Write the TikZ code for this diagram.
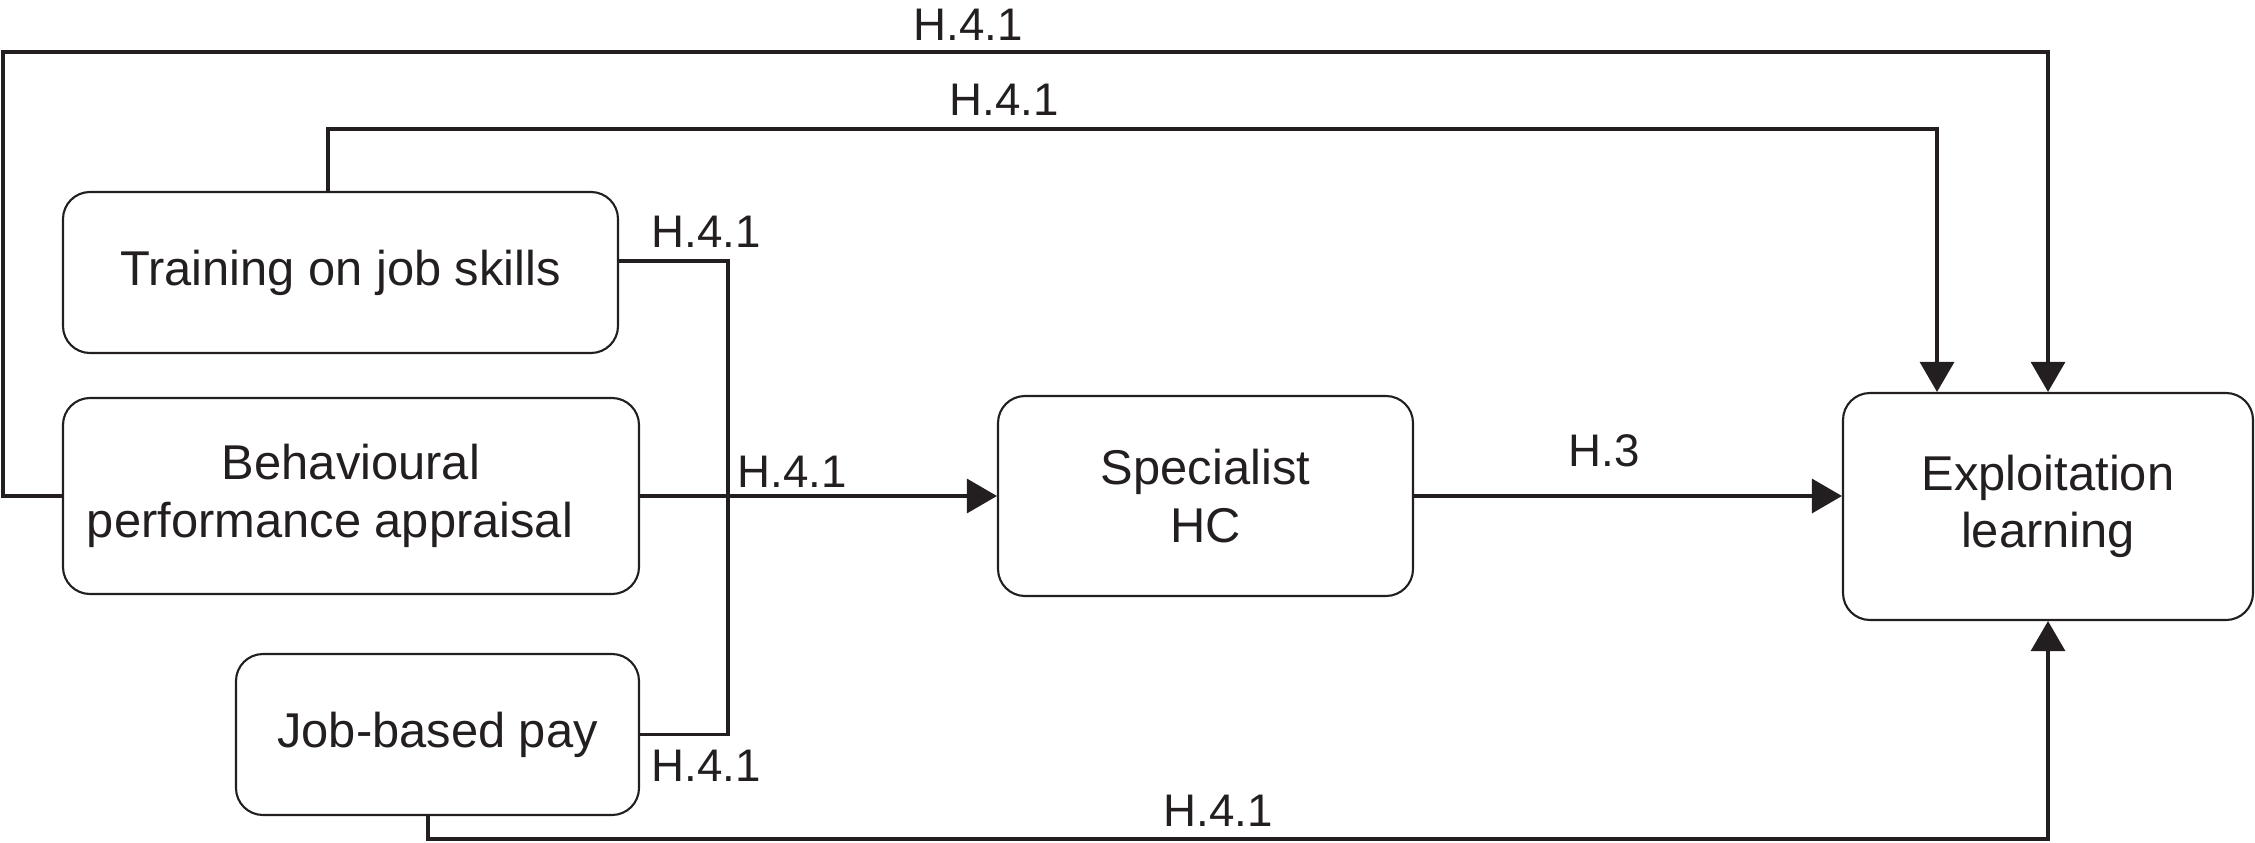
\documentclass[tikz,border=0pt]{standalone}
\usepackage{fontspec}
\setmainfont{Liberation Sans}
\usetikzlibrary{positioning,calc,arrows.meta}
\definecolor{ink}{HTML}{231F20}
\begin{document}
\begin{tikzpicture}[
    box/.style={draw = ink, line width = 0.6pt,
        rounded corners = 0.27cm,
        text = ink,
        text centered, align = center,
        inner sep = 0pt,
        font = \fontsize{13.9}{16.3}\selectfont},
    hyp/.style={text = ink, inner sep = 0pt,
        font = \fontsize{13}{15}\selectfont},
    link/.style={draw = ink, line width = 0.9pt},
    >={Triangle[length=0.3cm, width=0.34cm]}
    ]

        \useasboundingbox (0,0) rectangle (22.55,8.42);

        %training
        \node[box,
            minimum width = 5.55cm,
            minimum height = 1.61cm] (train) at (3.405,5.695) {Training on job skills};

        %appraisal
        \node[box,
            minimum width = 5.76cm,
            minimum height = 1.96cm] (behav) at (3.51,3.46) {Behavioural\\performance appraisal\hspace*{0.42cm}};

        %pay
        \node[box,
            minimum width = 4.03cm,
            minimum height = 1.61cm] (pay) at (4.375,1.075) {Job-based pay};

        %specialist human capital
        \node[box,
            minimum width = 4.15cm,
            minimum height = 2.0cm] (spec) at (12.055,3.46) {Specialist\\HC};

        %exploitation
        \node[box,
            minimum width = 4.10cm,
            minimum height = 2.27cm] (exploit) at (20.48,3.355) {Exploitation\\learning};

        %corners of the long links
        \coordinate (topleft) at (0.03,7.90);
        \coordinate (trainup) at (3.28,7.13);
        \coordinate (trainin) at (19.37,7.13);
        \coordinate (bus) at (7.28,5.81);
        \coordinate (paydown) at (4.28,0.03);

        %appraisal over the top
        \draw[link, ->] (behav.west) -| (topleft) -| (exploit.north);

        %training over the top
        \draw[link, ->] (trainup |- train.north) -- (trainup) -- (trainin) -- (trainin |- exploit.north);

        %training and pay bus
        \draw[link] (bus -| train.east) -- (bus) -- (bus |- pay.east) -- (pay.east);

        %to specialist HC and on
        \draw[link, ->] (behav.east) -- (spec.west);
        \draw[link, ->] (spec.east) -- (spec.east -| exploit.west);

        %pay along the bottom
        \draw[link, ->] (paydown |- pay.south) -- (paydown) -| (exploit.south);

        %hypotheses
        \node[hyp] (h1) at (9.68,8.175) {H.4.1};
        \node[hyp] (h2) at (10.04,7.42) {H.4.1};
        \node[hyp] (h3) at (7.06,6.105) {H.4.1};
        \node[hyp] (h4) at (7.92,3.70) {H.4.1};
        \node[hyp] (h5) at (7.06,0.76) {H.4.1};
        \node[hyp] (h6) at (16.045,3.91) {H.3};
        \node[hyp] (h7) at (12.18,0.31) {H.4.1};

\end{tikzpicture}
\end{document}
